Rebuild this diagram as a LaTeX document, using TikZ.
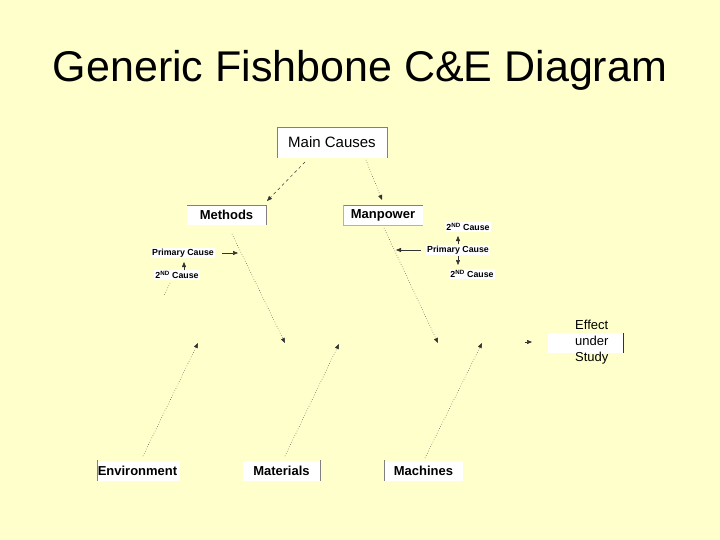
\documentclass[tikz,border=0pt]{standalone}
\usepackage{fontspec}
\setmainfont{Liberation Sans}
\usetikzlibrary{arrows.meta}
\definecolor{bg}{RGB}{255,255,204}
\begin{document}
\begin{tikzpicture}[x=1pt,y=-1pt,
  box/.style={fill=white,inner sep=0pt,minimum height=20pt},
  lbl/.style={font=\fontsize{13}{15}\selectfont\bfseries},
  small/.style={font=\fontsize{8.8}{10}\selectfont\bfseries,fill=white,inner sep=1pt},
  arr/.style={-{Triangle[length=5pt,width=4pt]},line width=0.5pt,black!80},
  dot/.style={arr,dotted}]
\fill[bg] (0,0) rectangle (720,540);
\useasboundingbox (0,0) rectangle (720,540);
\node (title) at (360,70) {\fontsize{43}{48}\selectfont Generic Fishbone C\&E Diagram};
% main causes
\node[box,minimum width=110pt,minimum height=31pt] (main) at (332,142.5) {\fontsize{15}{17}\selectfont Main Causes};
\draw[gray] (main.south west)--(main.north west)--(main.north east)--(main.south east);
\node[box,minimum width=79pt,lbl] (meth) at (226.5,215) {Methods};
\draw[gray] (meth.north west)--(meth.north east)--(meth.south east);
\node[box,minimum width=80pt,lbl] (man) at (383,215) {Manpower};
\draw[gray] (man.north west)--(man.north east);
\draw[gray!60] (man.north west)--(man.south west)--(man.south east);
\coordinate (m1) at (305,162); \coordinate (m1e) at (267,201);
\coordinate (m2) at (366,160); \coordinate (m2e) at (382,200);
\draw[arr,dashed] (m1)--(m1e);
\draw[dot] (m2)--(m2e);
% spines
\coordinate (s1) at (232,234); \coordinate (e1) at (285,343);
\coordinate (s2) at (384,228); \coordinate (e2) at (438,343);
\draw[dot] (s1)--(e1);
\draw[dot] (s2)--(e2);
% left primary
\node[small] (pcl) at (183,253) {Primary Cause};
\coordinate (pcla) at (238,253);
\draw[arr] (222,253) -- (pcla);
\node[small] (scl) at (177,275) {2\textsuperscript{ND} Cause};
\draw[arr] (184,270)--(184,262);
\draw[dot,-] (170,283)--(164,296);
% right primary
\node[small] (pcr) at (458,250) {Primary Cause};
\coordinate (pcra) at (396,250);
\draw[arr] (421,250)--(pcra);
\node[small] (scr1) at (468,227) {2\textsuperscript{ND} Cause};
\node[small] (scr2) at (472,274) {2\textsuperscript{ND} Cause};
\draw[arr] (458,244)--(458,236);
\draw[arr] (458,256)--(458,265);
% bottom
\node[box,minimum width=83pt,lbl] (env) at (138.5,470.5) {Environment\hspace*{2pt}};
\draw[gray] (env.north west)--(env.south west);
\node[box,minimum width=77pt,lbl] (mat) at (281.5,470.5) {Materials};
\draw[gray] (mat.north east)--(mat.south east);
\node[box,minimum width=79pt,lbl] (mac) at (423.5,470.5) {Machines};
\draw[gray] (mac.north west)--(mac.south west);
\coordinate (b1) at (143,456); \coordinate (t1) at (198,343);
\coordinate (b2) at (285,456); \coordinate (t2) at (339,344);
\coordinate (b3) at (425,458); \coordinate (t3) at (482,343);
\draw[dot] (b1)--(t1);
\draw[dot] (b2)--(t2);
\draw[dot] (b3)--(t3);
% effect
\node[box,minimum width=75pt] (eff) at (585.5,343) {};
\draw[gray!40!black] (eff.north east)--(eff.south east);
\node[align=left,anchor=west,inner sep=0pt,font=\fontsize{13}{16}\selectfont] (efft) at (575,342) {Effect\\under\\Study};
\coordinate (ea) at (532,342);
\draw[arr] (525,342)--(ea);
\end{tikzpicture}
\end{document}
